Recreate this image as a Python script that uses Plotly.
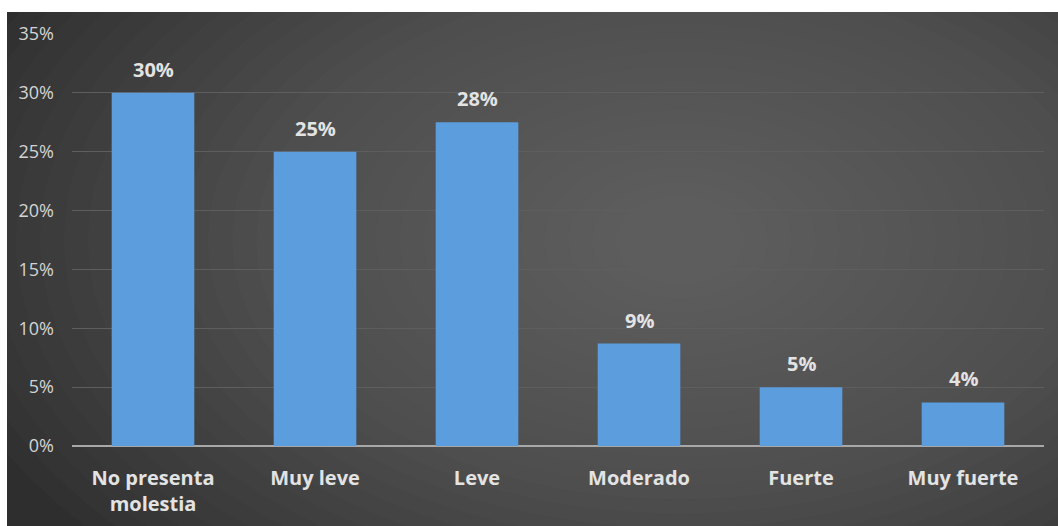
import plotly.graph_objects as go

categories = ["No presenta<br>molestia", "Muy leve", "Leve", "Moderado", "Fuerte", "Muy fuerte"]
values = [30.0, 25.0, 27.5, 8.7, 5.0, 3.7]
labels = ["30%", "25%", "28%", "9%", "5%", "4%"]
y_ticks = [0, 5, 10, 15, 20, 25, 30, 35]
y_tick_text = ["0%", "5%", "10%", "15%", "20%", "25%", "30%", "35%"]

W, H = 1058, 526
ML, MR, MT, MB = 72, 14, 34, 80
PW, PH = W - ML - MR, H - MT - MB

def px_x(p):
    return (p - ML) / PW

def px_y(p):
    return (H - MB - p) / PH

shapes = []
# radial-ish background glow
cx, cy = 680, 240
n = 30
for i in range(n):
    f = 1 - i / n
    rx = 40 + 720 * f
    ry = 30 + 430 * f
    shapes.append(dict(type="circle", xref="paper", yref="paper",
                       x0=px_x(cx - rx), x1=px_x(cx + rx),
                       y0=px_y(cy + ry), y1=px_y(cy - ry),
                       fillcolor="rgba(118,118,118,0.04)", line=dict(width=0),
                       layer="below"))
# white border strips (top and left)
shapes.append(dict(type="rect", xref="paper", yref="paper",
                   x0=px_x(-5), x1=px_x(W + 5), y0=px_y(12), y1=px_y(-5),
                   fillcolor="white", line=dict(width=0), layer="below"))
shapes.append(dict(type="rect", xref="paper", yref="paper",
                   x0=px_x(-5), x1=px_x(7), y0=px_y(H + 5), y1=px_y(-5),
                   fillcolor="white", line=dict(width=0), layer="below"))

fig = go.Figure()
fig.add_trace(go.Bar(
    x=categories, y=values,
    marker=dict(color="#5b9ddd", line=dict(width=0)),
    hoverinfo="skip",
))

annotations = [dict(x=c, y=v, text=t, xref="x", yref="y", showarrow=False,
                    yanchor="bottom", yshift=8,
                    font=dict(family="Open Sans", size=20, color="#e3e3e3", weight="bold"))
               for c, v, t in zip(categories, values, labels)]

fig.update_layout(
    width=W, height=H,
    margin=dict(l=ML, r=MR, t=MT, b=MB),
    paper_bgcolor="#2e2e2e",
    plot_bgcolor="rgba(0,0,0,0)",
    bargap=0.49,
    showlegend=False,
    shapes=shapes,
    annotations=annotations,
    xaxis=dict(
        showgrid=False, zeroline=False, showline=False, automargin=False,
        ticks="", ticklabelstandoff=18,
        tickfont=dict(family="Open Sans", size=20, color="#e3e3e3", weight="bold"),
    ),
    yaxis=dict(
        range=[0, 35], tickvals=y_ticks, ticktext=y_tick_text, automargin=False,
        showgrid=True, gridcolor="#5e5e5e", gridwidth=1,
        zeroline=True, zerolinecolor="#a8a8a8", zerolinewidth=2,
        showline=False, ticks="", ticklabelstandoff=17,
        tickfont=dict(family="Open Sans", size=18, color="#d4d4d4"),
    ),
)

fig.write_html("out.html")
